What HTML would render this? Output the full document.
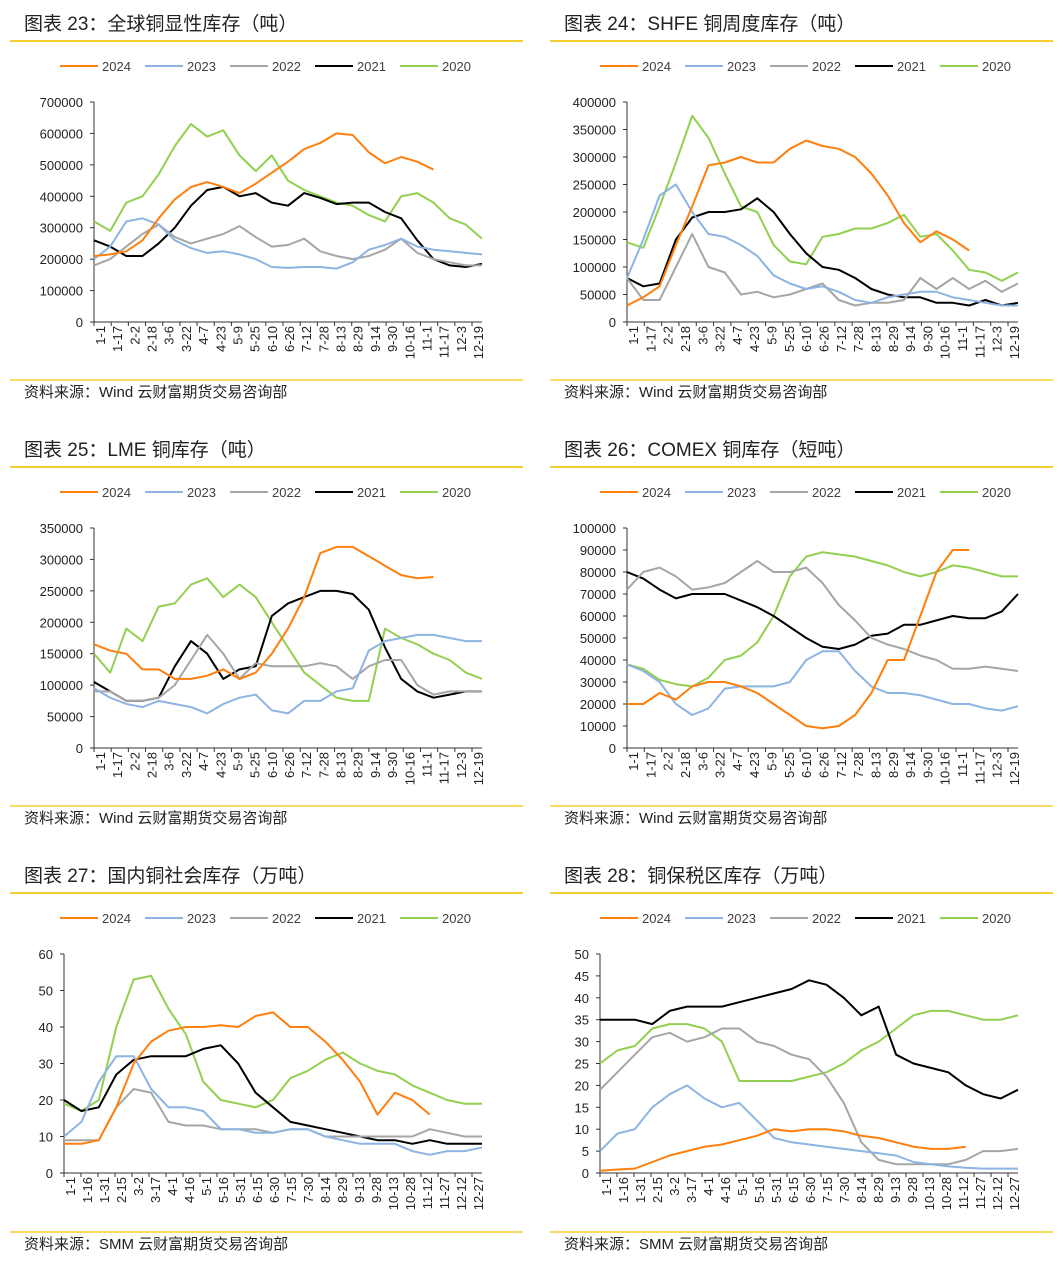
<!DOCTYPE html>
<html><head><meta charset="utf-8"><style>
body{margin:0;background:#fff}
svg text{font-family:"Liberation Sans","Noto Sans CJK SC",sans-serif}
</style></head><body>
<svg id="s" width="1063" height="1265" xmlns="http://www.w3.org/2000/svg"></svg>
<script>
const labelsA=["1-1","1-17","2-2","2-18","3-6","3-22","4-7","4-23","5-9","5-25","6-10","6-26","7-12","7-28","8-13","8-29","9-14","9-30","10-16","11-1","11-17","12-3","12-19"];
const labelsB=["1-1","1-16","1-31","2-15","3-2","3-17","4-1","4-16","5-1","5-16","5-31","6-15","6-30","7-15","7-30","8-14","8-29","9-13","9-28","10-13","10-28","11-12","11-27","12-12","12-27"];
const years=["2024","2023","2022","2021","2020"];
const colors=["#ff7f0e","#8db4e2","#a6a6a6","#000000","#92d050"];

const c23_2024=[210,215,225,260,330,390,430,445,430,410,440,475,510,550,570,600,595,540,505,525,510,485].map(v=>v*1000);
const c23_2023=[200,240,320,330,310,260,235,220,225,215,200,175,172,175,175,170,190,230,245,265,240,230,225,220,215].map(v=>v*1000);
const c23_2022=[180,200,240,280,310,270,250,265,280,305,270,240,245,265,225,210,200,210,230,265,220,200,190,180,180].map(v=>v*1000);
const c23_2021=[260,240,210,210,250,300,370,420,430,400,410,380,370,410,395,375,380,380,350,330,260,200,180,175,185].map(v=>v*1000);
const c23_2020=[320,290,380,400,470,560,630,590,610,530,480,530,450,420,400,380,370,340,320,400,410,380,330,310,265].map(v=>v*1000);

const c24_2024=[30,45,65,140,210,285,290,300,290,290,315,330,320,315,300,270,230,180,145,165,150,130].map(v=>v*1000);
const c24_2023=[80,150,230,250,200,160,155,140,120,85,70,60,65,55,40,35,45,50,55,55,45,40,35,30,30].map(v=>v*1000);
const c24_2022=[80,40,40,100,160,100,90,50,55,45,50,60,70,40,30,35,35,40,80,60,80,60,75,55,70].map(v=>v*1000);
const c24_2021=[80,65,70,150,190,200,200,205,225,200,160,125,100,95,80,60,50,45,45,35,35,30,40,30,35].map(v=>v*1000);
const c24_2020=[145,135,210,290,375,335,270,210,200,140,110,105,155,160,170,170,180,195,155,160,130,95,90,75,90].map(v=>v*1000);

const c25_2024=[165,155,150,125,125,110,110,115,125,110,120,150,190,240,310,320,320,305,290,275,270,272].map(v=>v*1000);
const c25_2023=[95,80,70,65,75,70,65,55,70,80,85,60,55,75,75,90,95,155,170,175,180,180,175,170,170].map(v=>v*1000);
const c25_2022=[90,90,75,75,80,100,140,180,150,110,135,130,130,130,135,130,110,130,140,140,100,85,90,90,90].map(v=>v*1000);
const c25_2021=[105,90,75,75,80,130,170,150,110,125,130,210,230,240,250,250,245,220,160,110,90,80,85,90,90].map(v=>v*1000);
const c25_2020=[150,120,190,170,225,230,260,270,240,260,240,200,160,120,100,80,75,75,190,175,165,150,140,120,110].map(v=>v*1000);

const c26_2024=[20,20,25,22,28,30,30,28,25,20,15,10,9,10,15,25,40,40,60,80,90,90].map(v=>v*1000);
const c26_2023=[38,35,30,20,15,18,27,28,28,28,30,40,44,44,35,28,25,25,24,22,20,20,18,17,19].map(v=>v*1000);
const c26_2022=[72,80,82,78,72,73,75,80,85,80,80,82,75,65,58,50,47,45,42,40,36,36,37,36,35].map(v=>v*1000);
const c26_2021=[80,77,72,68,70,70,70,67,64,60,55,50,46,45,47,51,52,56,56,58,60,59,59,62,70].map(v=>v*1000);
const c26_2020=[38,36,31,29,28,32,40,42,48,60,78,87,89,88,87,85,83,80,78,80,83,82,80,78,78].map(v=>v*1000);

const c27_2024=[8,8,9,18,30,36,39,40,40,40.5,40,43,44,40,40,36,31,25,16,22,20,16];
const c27_2023=[10,14,25,32,32,23,18,18,17,12,12,11,11,12,12,10,9,8,8,8,6,5,6,6,7];
const c27_2022=[9,9,9,18,23,22,14,13,13,12,12,12,11,12,12,10,10,10,10,10,10,12,11,10,10];
const c27_2021=[20,17,18,27,31,32,32,32,34,35,30,22,18,14,13,12,11,10,9,9,8,9,8,8,8];
const c27_2020=[19,17,20,40,53,54,45,38,25,20,19,18,20,26,28,31,33,30,28,27,24,22,20,19,19];

const c28_2024=[0.5,0.8,1,2.5,4,5,6,6.5,7.5,8.5,10,9.5,10,10,9.5,8.5,8,7,6,5.5,5.5,6];
const c28_2023=[5,9,10,15,18,20,17,15,16,12,8,7,6.5,6,5.5,5,4.5,4,2.5,2,1.5,1.2,1,1,1];
const c28_2022=[19,23,27,31,32,30,31,33,33,30,29,27,26,22,16,7,3,2,2,2,2,3,5,5,5.5];
const c28_2021=[35,35,35,34,37,38,38,38,39,40,41,42,44,43,40,36,38,27,25,24,23,20,18,17,19];
const c28_2020=[25,28,29,33,34,34,33,30,21,21,21,21,22,23,25,28,30,33,36,37,37,36,35,35,36];

const charts=[
 {id:"23",title:"图表 23：全球铜显性库存（吨）",src:"资料来源：Wind 云财富期货交易咨询部",ox:10,w:513,oy:0,x0:94,x1:482,y0:102,y1:322,max:700000,step:100000,labels:labelsA,s:[c23_2024,c23_2023,c23_2022,c23_2021,c23_2020]},
 {id:"24",title:"图表 24：SHFE 铜周度库存（吨）",src:"资料来源：Wind 云财富期货交易咨询部",ox:550,w:503,oy:0,x0:627,x1:1018,y0:102,y1:322,max:400000,step:50000,labels:labelsA,s:[c24_2024,c24_2023,c24_2022,c24_2021,c24_2020]},
 {id:"25",title:"图表 25：LME 铜库存（吨）",src:"资料来源：Wind 云财富期货交易咨询部",ox:10,w:513,oy:426,x0:94,x1:482,y0:528,y1:748,max:350000,step:50000,labels:labelsA,s:[c25_2024,c25_2023,c25_2022,c25_2021,c25_2020]},
 {id:"26",title:"图表 26：COMEX 铜库存（短吨）",src:"资料来源：Wind 云财富期货交易咨询部",ox:550,w:503,oy:426,x0:627,x1:1018,y0:528,y1:748,max:100000,step:10000,labels:labelsA,s:[c26_2024,c26_2023,c26_2022,c26_2021,c26_2020]},
 {id:"27",title:"图表 27：国内铜社会库存（万吨）",src:"资料来源：SMM 云财富期货交易咨询部",ox:10,w:513,oy:852,x0:64,x1:482,y0:954,y1:1173,max:60,step:10,labels:labelsB,s:[c27_2024,c27_2023,c27_2022,c27_2021,c27_2020]},
 {id:"28",title:"图表 28：铜保税区库存（万吨）",src:"资料来源：SMM 云财富期货交易咨询部",ox:550,w:503,oy:852,x0:600,x1:1018,y0:954,y1:1173,max:50,step:5,labels:labelsB,s:[c28_2024,c28_2023,c28_2022,c28_2021,c28_2020]}
];
const NS="http://www.w3.org/2000/svg";
const svg=document.getElementById('s');
function mk(tag,attrs,parent,text){const e=document.createElementNS(NS,tag);for(const k in attrs)e.setAttribute(k,attrs[k]);if(text!==undefined)e.textContent=text;(parent||svg).appendChild(e);return e;}
charts.forEach(c=>{
 const g=mk('g',{});
 
 
 const t=mk('text',{x:c.ox+14,y:c.oy+30,'font-size':19,fill:'#222'},g,c.title);
 
 
 const l1=mk('line',{x1:c.ox,x2:c.ox+c.w,y1:c.oy+41,y2:c.oy+41,stroke:'#f5cf2e','stroke-width':2},g);
 
 
 const l2=mk('line',{x1:c.ox,x2:c.ox+c.w,y1:c.oy+380,y2:c.oy+380,stroke:'#f5cf2e','stroke-width':1.5},g);
 
 
 const st=mk('text',{x:c.ox+14,y:c.oy+397,'font-size':15,fill:'#222'},g,c.src);
 
 
 years.forEach((y,i)=>{
  const lx=c.ox+50+i*85, ly=c.oy+66;
  const lg=mk('g',{},g);
  
  
  mk('line',{x1:lx,x2:lx+38,y1:ly,y2:ly,stroke:colors[i],'stroke-width':2},lg);
  mk('text',{x:lx+42,y:ly+5,'font-size':13,fill:'#404040'},lg,y);
 });
 const sx=i=>c.x0+(c.x1-c.x0)*i/24;
 const sy=v=>c.y1-(c.y1-c.y0)*v/c.max;
 const ya=mk('g',{},g);
 
 
 mk('line',{x1:c.x0,x2:c.x0,y1:c.y0,y2:c.y1,stroke:'#333','stroke-width':1},ya);
 for(let v=0;v<=c.max+1e-9;v+=c.step){
  mk('line',{x1:c.x0-4,x2:c.x0,y1:sy(v),y2:sy(v),stroke:'#333'},ya);
  mk('text',{x:c.x0-11,y:sy(v)+5,'font-size':13,'text-anchor':'end',fill:'#222'},ya,String(Math.round(v)));
 }
 const xa=mk('g',{},g);
 
 
 mk('line',{x1:c.x0,x2:c.x1,y1:c.y1,y2:c.y1,stroke:'#333'},xa);
 const n=c.labels.length;
 c.labels.forEach((lb,i)=>{
  const x=c.x0+7+(c.x1-c.x0-10)*i/(n-1);
  mk('line',{x1:x-7,x2:x-7,y1:c.y1,y2:c.y1+4,stroke:'#333'},xa);
  mk('text',{x:x+4,y:c.y1+4,'font-size':13,'text-anchor':'end',fill:'#222',transform:`rotate(-90 ${x+4} ${c.y1+4})`},xa,lb);
 });
 for(let k=4;k>=0;k--){
  const d=c.s[k].map((v,i)=>(i?'L':'M')+sx(i).toFixed(1)+','+sy(v).toFixed(1)).join('');
  const p=mk('path',{d:d,fill:'none',stroke:colors[k],'stroke-width':2,'stroke-linejoin':'round'},g);
  
  
 }
});
</script>
</body></html>
